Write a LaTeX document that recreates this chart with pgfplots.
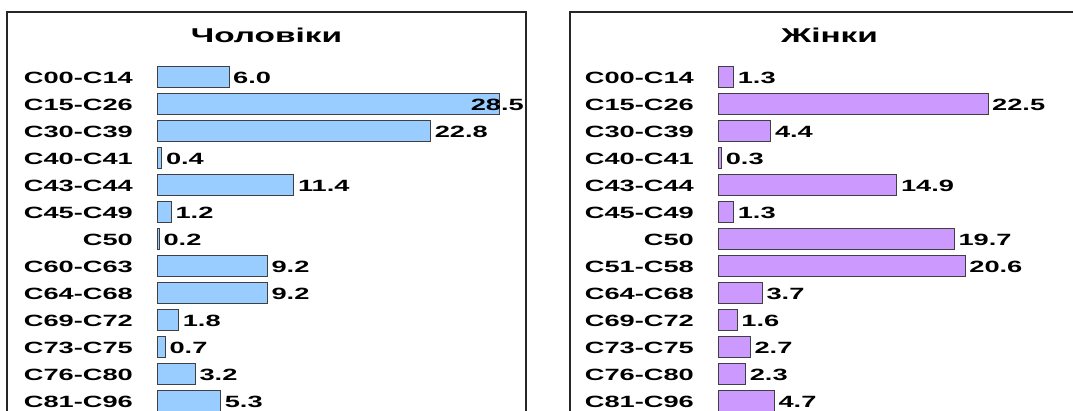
\documentclass[border=0pt]{standalone}
\usepackage{pgfplots}
\pgfplotsset{compat=1.18}
\usepackage{fontspec}
\setmainfont{Liberation Sans}[FakeStretch=1.67]
\definecolor{barblue}{HTML}{99CCFF}
\definecolor{barpurple}{HTML}{CC99FF}
\definecolor{edge}{HTML}{404040}
\begin{document}
\begin{tikzpicture}[x=1pt,y=1pt]
\useasboundingbox (0,0) rectangle (1073,-410);
\clip (0,0) rectangle (1073,-410);
\draw[line width=1.2pt, black!85] (7,-430) -- (7,-12) -- (526,-12) -- (526,-430);
\draw[line width=1.2pt, black!85] (570,-430) -- (570,-12) -- (1100,-12);
\node[font=\fontsize{20}{22}\selectfont\bfseries, inner sep=0pt, anchor=base] at (266.5,-42.7) {Чоловіки};
\node[font=\fontsize{20}{22}\selectfont\bfseries, inner sep=0pt, anchor=base] at (829.5,-42.7) {Жінки};
\pgfplotsset{
  mystyle/.style={
    scale only axis,
    width=360pt, height=351pt,
    xmin=0, xmax=30,
    ymin=-0.5, ymax=12.5,
    y dir=reverse,
    axis line style={draw=none},
    major tick length=0pt,
    xtick=\empty,
    ytick={0,...,12},
    yticklabel style={font=\fontsize{16.3}{18}\selectfont\bfseries, anchor=east, inner sep=0pt, xshift=-24pt, yshift=-1.5pt},
    clip=false,
  },
  lab/.style={only marks, mark=none,
    point meta=x,
    nodes near coords={\pgfmathprintnumber[fixed,fixed zerofill,precision=1,assume math mode=true]{\pgfplotspointmeta}},
    nodes near coords style={font=\fontsize{16.3}{18}\selectfont\bfseries, anchor=west, inner sep=0pt, xshift=4pt, yshift=-1.5pt},
  },
}
\begin{axis}[mystyle, at={(157pt,-63pt)}, anchor=north west,
  yticklabels={C00-C14,C15-C26,C30-C39,C40-C41,C43-C44,C45-C49,C50,C60-C63,C64-C68,C69-C72,C73-C75,C76-C80,C81-C96}]
\addplot[xbar, bar width=21pt, bar shift=0pt, fill=barblue, draw=edge, line width=0.8pt] coordinates {
(6.0,0) (28.5,1) (22.8,2) (0.4,3) (11.4,4) (1.2,5) (0.2,6) (9.2,7) (9.2,8) (1.8,9) (0.7,10) (3.2,11) (5.3,12)};
\addplot[lab] coordinates {
(6.0,0) (22.8,2) (0.4,3) (11.4,4) (1.2,5) (0.2,6) (9.2,7) (9.2,8) (1.8,9) (0.7,10) (3.2,11) (5.3,12)};
\addplot[lab, nodes near coords style={anchor=east, xshift=21pt}] coordinates {(28.5,1)};
\end{axis}
\begin{axis}[mystyle, at={(718pt,-63pt)}, anchor=north west,
  yticklabels={C00-C14,C15-C26,C30-C39,C40-C41,C43-C44,C45-C49,C50,C51-C58,C64-C68,C69-C72,C73-C75,C76-C80,C81-C96}]
\addplot[xbar, bar width=21pt, bar shift=0pt, fill=barpurple, draw=edge, line width=0.8pt] coordinates {
(1.3,0) (22.5,1) (4.4,2) (0.3,3) (14.9,4) (1.3,5) (19.7,6) (20.6,7) (3.7,8) (1.6,9) (2.7,10) (2.3,11) (4.7,12)};
\addplot[lab] coordinates {
(1.3,0) (22.5,1) (4.4,2) (0.3,3) (14.9,4) (1.3,5) (19.7,6) (20.6,7) (3.7,8) (1.6,9) (2.7,10) (2.3,11) (4.7,12)};
\end{axis}
\end{tikzpicture}
\end{document}
